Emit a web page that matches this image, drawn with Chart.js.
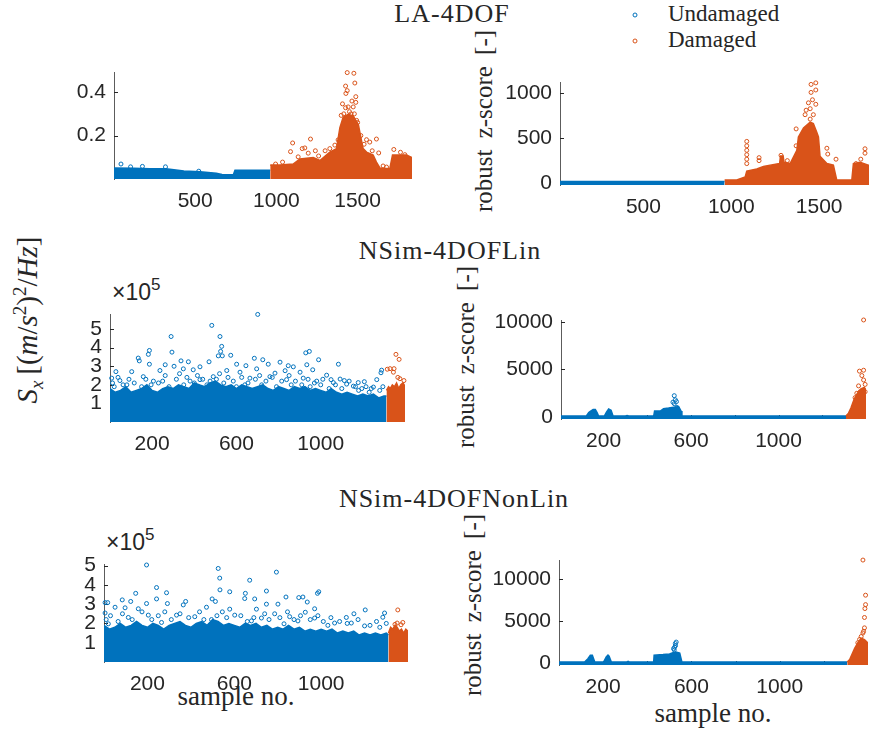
<!DOCTYPE html>
<html lang="en">
<head>
<meta charset="UTF-8">
<title>Sx and robust z-score per sample</title>
<script src="https://cdn.jsdelivr.net/npm/chart.js"></script>
<style>
  html, body { margin: 0; padding: 0; background: #fff; overflow: hidden; }
  body { width: 869px; height: 731px; position: relative; font-family: "Liberation Serif", serif; color: #262626; }
  .panel { position: absolute; }
  .txt { position: absolute; white-space: nowrap; line-height: 1; transform: translate(-50%, -50%); }
  .rot { transform: translate(-50%, -50%) rotate(-90deg); }
  .title { font-size: 26px; letter-spacing: 1px; }
  .ylab { font-size: 25px; word-spacing: 5px; }
  .xlab { font-size: 27px; }
  .exp { position: absolute; font-family: "Liberation Sans", Arial, sans-serif; font-size: 23px; transform: translateY(-50%); white-space: nowrap; }
  .exp sup { font-size: 17px; vertical-align: 10px; }
  .leg { position: absolute; font-size: 23px; transform: translateY(-50%); white-space: nowrap; }
  .mk { position: absolute; width: 3px; height: 3px; border-radius: 50%; border: 1px solid; transform: translate(-50%, -50%); }
  sub, sup { line-height: 0; }
</style>
</head>
<body>
  <div class="txt title" style="left:452px; top:14px;">LA-4DOF</div>
  <div class="txt title" style="left:450px; top:251px;">NSim-4DOFLin</div>
  <div class="txt title" style="left:454px; top:499px;">NSim-4DOFNonLin</div>

  <div class="mk" style="left:635px; top:15px; border-color:#0072BD;"></div>
  <div class="leg" style="left:668px; top:14px;">Undamaged</div>
  <div class="mk" style="left:635px; top:41px; border-color:#D95319;"></div>
  <div class="leg" style="left:668px; top:40px;">Damaged</div>

  <div class="txt rot ylab" style="left:483px; top:121px;">robust z-score [-]</div>
  <div class="txt rot ylab" style="left:465px; top:357px;">robust z-score [-]</div>
  <div class="txt rot ylab" style="left:472px; top:605px;">robust z-score [-]</div>
  <div class="txt rot" style="left:27px; top:320px; font-size:29px;"><i>S</i><sub style="font-size:19px;"><i>x</i></sub>&thinsp;[(<i>m</i>/<i>s</i><sup style="font-size:19px;">2</sup>)<sup style="font-size:19px;">2</sup>/<i>Hz</i>]</div>

  <div class="exp" style="left:112px; top:292px;">&times;10<sup>5</sup></div>
  <div class="exp" style="left:106px; top:542px;">&times;10<sup>5</sup></div>

  <div class="txt xlab" style="left:236px; top:696px;">sample no.</div>
  <div class="txt xlab" style="left:713px; top:713px;">sample no.</div>

<script>
// ---- data: [sample no., value] ----
// "band" = the solid mass of markers (drawn as a filled outline), "dots" = markers standing clear of it

// LA-4DOF, spectral value S_x
const laSxUndBand = [[0,0.051],[120,0.050],[220,0.047],[320,0.047],[430,0.037],[530,0.033],[630,0.027],[665,0.021],[735,0.019],[745,0.040],[840,0.040],[962,0.040]];
const laSxUndDots = [[43,0.069],[102,0.056],[175,0.058],[317,0.056],[522,0.036]];
const laSxDamBand = [[962,0.065],[1022,0.065],[1103,0.069],[1145,0.092],[1227,0.099],[1268,0.085],[1329,0.124],[1370,0.140],[1391,0.236],[1411,0.284],[1442,0.298],[1473,0.291],[1505,0.250],[1514,0.215],[1534,0.140],[1555,0.124],[1596,0.110],[1616,0.078],[1637,0.051],[1698,0.047],[1715,0.110],[1801,0.110],[1835,0.099]];
const laSxDamDots = [[1436,0.490],[1477,0.487],[1426,0.428],[1483,0.442],[1428,0.394],[1436,0.407],[1489,0.379],[1407,0.346],[1465,0.359],[1473,0.332],[1442,0.332],[1426,0.328],[1399,0.293],[1489,0.353],[1494,0.270],[1421,0.263],[1210,0.184],[1100,0.166],[1555,0.181],[1575,0.170],[1616,0.184],[1087,0.126],[1159,0.140],[1175,0.143],[1196,0.119],[1038,0.078],[1134,0.102],[1329,0.140],[1360,0.156],[1723,0.136],[1764,0.123],[1791,0.112],[1657,0.060],[1678,0.055],[1260,0.106],[995,0.069],[1450,0.310],[1460,0.300],[1415,0.300],[1480,0.300],[1500,0.260],[1520,0.200],[1540,0.160],[1380,0.180],[1300,0.130],[1240,0.130],[1590,0.130],[1630,0.120]];

// LA-4DOF, robust z-score
const laZUndBand = [[25,15],[962,15]];
const laZDamBand = [[962,33],[1031,33],[1079,66],[1088,132],[1145,155],[1183,182],[1221,198],[1275,215],[1280,300],[1295,300],[1300,231],[1335,215],[1373,363],[1382,512],[1411,611],[1449,677],[1467,660],[1487,561],[1496,512],[1505,297],[1544,215],[1581,198],[1600,33],[1686,33],[1695,215],[1733,231],[1780,198],[1835,200]];
const laZDamDots = [[1481,1113],[1454,1096],[1481,1034],[1454,1007],[1462,925],[1439,891],[1481,875],[1426,809],[1449,826],[1467,759],[1420,759],[1369,601],[1369,413],[1449,710],[1088,462],[1088,413],[1088,363],[1088,314],[1088,264],[1088,215],[1158,281],[1158,248],[1283,307],[1319,248],[1544,386],[1549,321],[1596,264],[1761,380],[1761,331],[1737,264],[1710,215]];

// NSim-4DOFLin, S_x in units of 1e5
const linSxUndBand = [[0,1.8],[25,1.6],[50,1.7],[75,1.9],[100,1.6],[125,1.7],[150,1.8],[175,2.0],[200,1.7],[225,1.6],[250,1.8],[275,1.9],[300,1.8],[325,2.0],[350,1.9],[375,1.8],[400,2.1],[425,2.0],[450,1.9],[475,2.1],[500,2.2],[525,2.0],[550,1.9],[575,2.0],[600,1.8],[625,2.0],[650,1.9],[675,1.8],[700,1.9],[725,2.0],[750,1.8],[775,1.7],[800,1.9],[825,1.8],[850,1.7],[875,1.9],[900,1.8],[925,1.9],[950,1.7],[975,1.8],[1000,1.7],[1025,1.6],[1050,1.8],[1075,1.6],[1100,1.5],[1125,1.6],[1150,1.5],[1175,1.4],[1200,1.5],[1225,1.4],[1250,1.5],[1275,1.3],[1300,1.4],[1312,1.4]];
const linSxUndDots = [[701,5.79],[483,5.20],[290,4.60],[522,4.60],[530,4.07],[525,3.80],[294,3.76],[187,3.85],[182,3.64],[134,3.44],[139,3.29],[187,3.11],[514,3.56],[533,3.56],[573,3.59],[470,3.24],[685,3.43],[725,3.35],[929,3.72],[946,3.80],[990,3.35],[337,3.29],[372,3.24],[601,3.11],[645,3.03],[751,3.11],[807,3.22],[1084,3.11],[262,3.08],[846,3.03],[870,2.97],[934,3.08],[962,2.81],[427,2.97],[395,2.81],[304,3.00],[103,2.71],[28,2.71],[8,2.36],[1286,2.65],[1289,2.79],[1207,2.17],[1112,2.23],[1049,2.28],[1155,1.93],[1178,2.12],[783,2.63],[696,2.86],[831,2.76],[902,2.68],[237,2.77],[348,2.86],[554,2.77],[617,2.68],[47,2.23],[158,2.44],[1092,2.31],[1028,2.52],[206,2.20],[427,2.28],[490,2.44],[664,2.36],[759,2.44],[838,2.28],[917,2.36],[981,2.20],[1060,2.12],[1123,2.04],[1250,1.88],[1266,2.28],[20,1.9],[80,2.0],[150,1.9],[230,2.1],[280,1.9],[350,2.0],[400,2.1],[460,2.0],[540,2.1],[600,1.9],[640,2.0],[720,2.0],[790,1.9],[860,2.0],[950,1.9],[1000,2.0],[1040,1.8],[1100,1.8],[1180,1.7],[1230,1.6],[1280,1.7],[12,2.1],[38,2.4],[62,2.0],[90,2.3],[115,2.1],[170,2.3],[195,2.0],[250,2.2],[262,2.5],[315,2.3],[330,2.6],[365,2.4],[380,2.2],[415,2.5],[440,2.3],[475,2.2],[505,2.3],[520,2.6],[560,2.4],[585,2.2],[625,2.4],[655,2.1],[690,2.3],[710,2.5],[740,2.2],[770,2.4],[815,2.2],[850,2.5],[880,2.2],[910,2.0],[940,2.3],[970,2.1],[1010,2.3],[1070,2.0],[1135,2.2],[1165,1.9],[1195,1.8],[1215,1.9],[1240,1.8],[1295,1.9]];
const linSxDamBand = [[1312,1.7],[1322,1.9],[1330,1.8],[1340,2.0],[1350,1.9],[1360,2.1],[1370,1.8],[1380,2.0],[1390,2.1],[1402,1.9]];
const linSxDamDots = [[1357,3.64],[1372,3.37],[1316,2.84],[1329,2.87],[1348,2.87],[1376,2.33],[1395,2.23],[1366,2.40],[1345,2.68]];

// NSim-4DOFLin, robust z-score
const linZUndBand = [[5,100],[121,100],[132,466],[139,600],[152,782],[162,782],[170,466],[177,100],[203,100],[213,500],[223,838],[234,700],[243,100],[300,100],[307,160],[315,100],[429,100],[433,624],[459,624],[474,875],[497,937],[513,1000],[543,1093],[554,624],[558,100],[1310,100]];
const linZUndDots = [[523,2235],[528,1800],[533,1614],[523,1397],[517,1552],[535,1000]];
const linZDamBand = [[1308,100],[1320,400],[1331,937],[1346,1870],[1361,2490],[1377,2956],[1392,3111],[1402,2800]];
const linZDamDots = [[1389,10186],[1370,4814],[1389,4907],[1381,4348],[1389,3883],[1396,3417],[1366,3262],[1358,2490],[1373,2645],[1396,2645],[1350,2025]];

// NSim-4DOFNonLin, S_x in units of 1e5
const nlSxUndBand = [[0,1.9],[25,1.7],[50,1.8],[75,2.0],[100,1.8],[125,1.9],[150,2.1],[175,1.9],[200,1.8],[225,2.0],[250,1.9],[275,1.7],[300,1.9],[325,2.0],[350,2.1],[375,1.9],[400,1.8],[425,2.0],[450,2.1],[475,1.9],[500,2.2],[525,2.1],[550,1.9],[575,2.0],[600,1.9],[625,1.8],[650,2.0],[675,1.9],[700,2.0],[725,1.8],[750,1.9],[775,1.7],[800,1.8],[825,1.7],[850,1.9],[875,1.7],[900,1.8],[925,1.6],[950,1.7],[975,1.6],[1000,1.7],[1025,1.6],[1050,1.7],[1075,1.5],[1100,1.6],[1125,1.5],[1150,1.6],[1175,1.4],[1200,1.5],[1225,1.4],[1250,1.5],[1275,1.4],[1300,1.5],[1310,1.4]];
const nlSxUndDots = [[196,5.03],[526,4.85],[794,4.66],[533,4.35],[671,4.24],[242,3.86],[534,3.74],[288,3.59],[146,3.56],[579,3.64],[651,3.56],[748,3.68],[989,3.64],[983,3.56],[838,3.37],[897,3.34],[916,3.37],[648,3.29],[694,3.27],[498,3.27],[84,3.22],[123,3.14],[5,3.08],[17,3.08],[376,3.14],[513,3.14],[242,3.27],[196,3.03],[292,3.03],[365,2.96],[748,3.00],[801,3.00],[936,3.11],[970,2.76],[1203,2.70],[51,2.84],[97,2.81],[158,2.76],[5,2.54],[1116,2.31],[1151,2.50],[1292,2.54],[1284,2.32],[1062,2.02],[1139,2.02],[1200,1.87],[418,2.35],[472,2.84],[579,2.74],[602,2.43],[702,2.74],[786,2.50],[855,2.35],[927,2.58],[112,2.31],[204,2.43],[334,2.43],[495,2.20],[679,2.13],[725,2.28],[893,2.13],[970,2.28],[1031,1.90],[20,1.98],[265,2.05],[829,1.98],[10,2.2],[30,2.4],[65,2.1],[85,2.5],[130,2.2],[175,2.6],[220,2.2],[250,2.4],[280,2.6],[310,2.2],[350,2.5],[390,2.3],[440,2.6],[460,2.2],[520,2.4],[545,2.6],[565,2.3],[630,2.4],[660,2.1],[690,2.3],[740,2.5],[760,2.2],[810,2.3],[845,2.6],[875,2.2],[905,2.4],[950,2.2],[985,2.4],[1010,2.1],[1045,2.3],[1085,2.1],[1120,2.0],[1170,2.2],[1225,1.9],[1255,2.1],[1270,1.8],[1300,2.0]];
const nlSxDamBand = [[1310,1.5],[1320,1.8],[1330,1.7],[1340,1.9],[1350,1.8],[1360,1.6],[1370,1.7],[1380,1.5],[1390,1.7],[1400,1.6]];
const nlSxDamDots = [[1353,2.70],[1350,2.02],[1368,1.93],[1376,2.05],[1340,1.95]];

// NSim-4DOFNonLin, robust z-score
const nlZUndBand = [[0,100],[116,100],[131,500],[142,925],[151,925],[162,100],[202,100],[214,700],[222,925],[227,800],[237,100],[305,100],[313,180],[320,100],[429,100],[431,925],[471,996],[501,1067],[513,1200],[530,1300],[547,1173],[557,100],[1306,100]];
const nlZUndDots = [[531,2479],[528,2055],[519,1703],[524,1879],[527,2300],[522,1550]];
const nlZDamBand = [[1306,100],[1317,400],[1339,1695],[1354,2402],[1369,2931],[1384,2755],[1399,2402],[1400,2402]];
const nlZDamDots = [[1377,12224],[1389,8051],[1389,6928],[1386,6462],[1384,5403],[1380,3750],[1377,3560],[1369,3136],[1362,2790],[1354,2402],[1384,4170]];

// tick values
const laXTicks = [500, 1000, 1500];
const nsimXTicks = [200, 400, 600, 800, 1000, 1200];
const nsimXLabels = [200, 600, 1000];
const laSxYTicks = [0.2, 0.4];
const laZYTicks = [0, 500, 1000];
const nsimSxYTicks = [1, 2, 3, 4, 5];
const nsimZYTicks = [0, 5000, 10000];

const BLUE = '#0072BD';
const ORANGE = '#D95319';
const INK = '#262626';
const TICK_FONT = { family: '"Liberation Sans", Arial, sans-serif', size: 21 };

// small inward tick marks like MATLAB axes
const inwardTicks = {
  id: 'inwardTicks',
  beforeDatasetsDraw(chart) {
    const { ctx, chartArea: a, scales } = chart;
    ctx.save();
    ctx.strokeStyle = INK;
    ctx.lineWidth = 1;
    ctx.beginPath();
    scales.x.ticks.forEach(t => {
      const px = Math.round(scales.x.getPixelForValue(t.value)) + 0.5;
      ctx.moveTo(px, a.bottom); ctx.lineTo(px, a.bottom - 4);
    });
    scales.y.ticks.forEach(t => {
      const py = Math.round(scales.y.getPixelForValue(t.value)) + 0.5;
      ctx.moveTo(a.left, py); ctx.lineTo(a.left + 4, py);
    });
    ctx.stroke();
    ctx.restore();
  }
};

function toXY(pts) {
  return pts.map(p => ({ x: p[0], y: p[1] }));
}

function band(pts, color, order) {
  return { type: 'line', data: toXY(pts), borderColor: color, backgroundColor: color,
           borderWidth: 1.5, pointRadius: 0, fill: 'start', tension: 0, order: order };
}

function dots(pts, color, order) {
  return { type: 'scatter', data: toXY(pts), borderColor: color, backgroundColor: 'rgba(0,0,0,0)',
           pointRadius: 2, borderWidth: 1, clip: false, order: order };
}

// box = plot area in page pixels
function makePanel(box, xr, yr, xTicks, xLabels, yTicks, datasets) {
  const yw = 70, xh = 40, padT = 8, padR = 8;
  const left = Math.round(box.left) - yw;
  const top = Math.round(box.top) - padT;
  const w = Math.round(box.right) + padR - left;
  const h = Math.round(box.bottom) + xh - top;

  const wrap = document.createElement('div');
  wrap.className = 'panel';
  wrap.style.left = left + 'px';
  wrap.style.top = top + 'px';
  wrap.style.width = w + 'px';
  wrap.style.height = h + 'px';
  const cv = document.createElement('canvas');
  cv.width = w; cv.height = h;
  cv.style.width = w + 'px'; cv.style.height = h + 'px';
  wrap.appendChild(cv);
  document.body.appendChild(wrap);

  new Chart(cv, {
    type: 'scatter',
    data: { datasets: datasets },
    options: {
      responsive: false,
      animation: false,
      events: [],
      layout: { padding: { top: padT, right: padR, left: 0, bottom: 0 } },
      plugins: { legend: { display: false }, tooltip: { enabled: false } },
      scales: {
        x: {
          type: 'linear', min: xr[0], max: xr[1],
          afterBuildTicks: s => { s.ticks = xTicks.map(v => ({ value: v })); },
          afterFit: s => { s.height = xh; },
          grid: { display: false, drawTicks: false },
          border: { display: false },
          ticks: { padding: 10, color: INK, font: TICK_FONT, maxRotation: 0, autoSkip: false,
                   callback: v => (xLabels.includes(v) ? String(v) : '') }
        },
        y: {
          type: 'linear', min: yr[0], max: yr[1],
          afterBuildTicks: s => { s.ticks = yTicks.map(v => ({ value: v })); },
          afterFit: s => { s.width = yw; },
          grid: { display: false, drawTicks: false },
          border: { display: true, color: 'rgba(38,38,38,0.75)', width: 1 },
          ticks: { padding: 8, color: INK, font: TICK_FONT, autoSkip: false,
                   callback: v => String(v) }
        }
      }
    },
    plugins: [inwardTicks]
  });
}

function sets(undBand, undDots, damBand, damDots) {
  const out = [band(undBand, BLUE, 4)];
  if (undDots) out.push(dots(undDots, BLUE, 3));
  out.push(band(damBand, ORANGE, 2));
  out.push(dots(damDots, ORANGE, 1));
  return out;
}

makePanel({ left: 114, top: 60, right: 412, bottom: 179 }, [0, 1835], [0, 0.49],
  laXTicks, laXTicks, laSxYTicks, sets(laSxUndBand, laSxUndDots, laSxDamBand, laSxDamDots));
makePanel({ left: 560, top: 70, right: 878, bottom: 185 }, [25, 1835], [-23, 1116],
  laXTicks, laXTicks, laZYTicks, sets(laZUndBand, null, laZDamBand, laZDamDots));

makePanel({ left: 110, top: 302, right: 405, bottom: 422 }, [0, 1400], [0, 5.78],
  nsimXTicks, nsimXLabels, nsimSxYTicks, sets(linSxUndBand, linSxUndDots, linSxDamBand, linSxDamDots));
makePanel({ left: 561, top: 308, right: 866, bottom: 419 }, [5, 1400], [-214, 10121],
  nsimXTicks, nsimXLabels, nsimZYTicks, sets(linZUndBand, linZUndDots, linZDamBand, linZDamDots));

makePanel({ left: 104, top: 552, right: 408, bottom: 662 }, [0, 1400], [0, 5.05],
  nsimXTicks, nsimXLabels, nsimSxYTicks, sets(nlSxUndBand, nlSxUndDots, nlSxDamBand, nlSxDamDots));
makePanel({ left: 559, top: 548, right: 868, bottom: 665 }, [0, 1400], [-244, 12160],
  nsimXTicks, nsimXLabels, nsimZYTicks, sets(nlZUndBand, nlZUndDots, nlZDamBand, nlZDamDots));
</script>
</body>
</html>
